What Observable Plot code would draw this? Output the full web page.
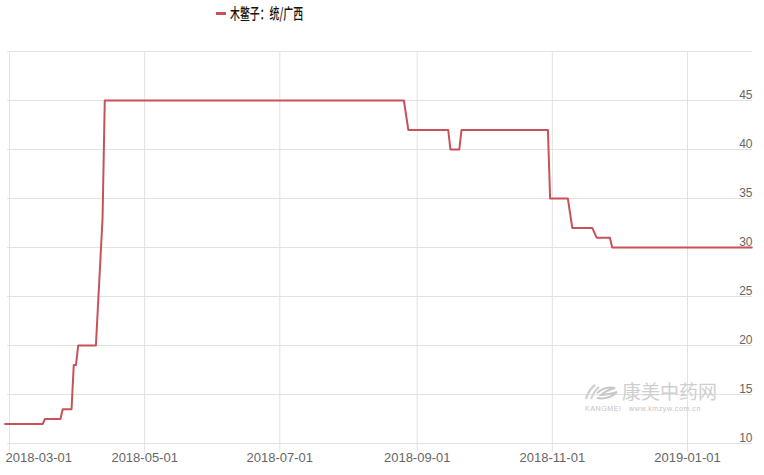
<!DOCTYPE html>
<html><head><meta charset="utf-8">
<script src="https://cdn.jsdelivr.net/npm/d3@7"></script>
<script src="https://cdn.jsdelivr.net/npm/@observablehq/plot@0.6"></script>
<style>
body{margin:0;background:#fff;width:764px;height:475px;overflow:hidden;position:relative;font-family:"Liberation Sans",Arial,sans-serif;}
#legend{position:relative;height:26px;}
#legend .sw{position:absolute;left:216px;top:12px;width:10px;height:3px;background:#c9525a;}
#legend .lt{position:absolute;left:230px;top:2px;font-family:"Noto Sans CJK SC",sans-serif;font-size:15px;line-height:22px;font-weight:500;color:#111;transform:scaleX(0.66);transform-origin:0 50%;white-space:nowrap;}
#wm1{position:absolute;left:622px;top:381px;font-family:"Noto Sans CJK SC",sans-serif;font-size:19px;line-height:20px;color:#cfcfcf;}
#wm2{position:absolute;left:585px;top:405px;font-family:"Liberation Sans",sans-serif;font-size:7px;line-height:7px;color:#c4c4c4;letter-spacing:0.6px;white-space:pre;}
#logo{position:absolute;left:583px;top:383px;}
</style></head><body>
<div id="legend"><span class="sw"></span><span class="lt" id="lt"></span></div>
<div id="chart"></div>
<svg id="logo" width="38" height="18" viewBox="0 0 38 18"><path d="M3 16 Q6 6 12 2" stroke="#cfcfcf" stroke-width="2.2" fill="none"/><path d="M8 16 Q11 8 16 4" stroke="#cfcfcf" stroke-width="2" fill="none"/><path d="M14 10 Q22 3 32 5 Q22 8 18 12 Q28 11 34 9 Q26 17 14 15" stroke="#c8c8c8" stroke-width="2" fill="none"/></svg>
<div id="wm1">康美中药网</div>
<div id="wm2">KANGMEI   www.kmzyw.com.cn</div>
<script>
const seriesName = "木鳖子：统/广西";
const dates = ["2018-02-27","2018-03-16","2018-03-17","2018-03-24","2018-03-25","2018-03-29","2018-03-30","2018-03-31","2018-04-01","2018-04-09","2018-04-12","2018-04-13","2018-08-26","2018-08-28","2018-09-15","2018-09-16","2018-09-20","2018-09-21","2018-10-30","2018-10-31","2018-11-08","2018-11-10","2018-11-19","2018-11-21","2018-11-27","2018-11-28","2019-01-30"];
const prices = [12,12,12.5,12.5,13.5,13.5,18,18,20,20,33,45,45,42,42,40,40,42,42,35,35,32,32,31,31,30,30];
const xTicks = ["2018-03-01","2018-05-01","2018-07-01","2018-09-01","2018-11-01","2019-01-01"];
const yTicks = [10,15,20,25,30,35,40,45];
const yGrid = [10,15,20,25,30,35,40,45,50];

document.getElementById("lt").textContent = seriesName;
const data = dates.map((d,i)=>({date:new Date(d+"T00:00:00Z"), price:prices[i]}));
const tickDates = xTicks.map(d=>new Date(d+"T00:00:00Z"));
const fmt = d3.utcFormat("%Y-%m-%d");

const chart = Plot.plot({
  width:764, height:449, marginTop:25, marginBottom:32, marginLeft:7, marginRight:12,
  style:{fontFamily:"Liberation Sans, Arial, sans-serif", fontSize:"12px", color:"#666", background:"#fff", overflow:"visible"},
  x:{type:"utc", domain:[tickDates[0], tickDates[tickDates.length-1]], range:[9,687]},
  y:{domain:[10,50], range:[417,25]},
  marks:[
    Plot.gridY(yGrid, {stroke:"#e2e2e2", strokeOpacity:1}),
    Plot.gridX(tickDates, {stroke:"#e2e2e2", strokeOpacity:1}),
    Plot.axisX(tickDates, {tickFormat:null, text:null, tickSize:9, stroke:"#e2e2e2", label:null}),
    Plot.axisX(tickDates.slice(0,1), {tickFormat:fmt, tickSize:9, tickPadding:0, stroke:"none", fontSize:13, fill:"#666", textAnchor:"start", dx:-4, label:null}),
    Plot.axisX(tickDates.slice(1), {tickFormat:fmt, tickSize:9, tickPadding:0, stroke:"none", fontSize:13, fill:"#666", label:null}),
    Plot.axisY(yTicks, {anchor:"right", tickSize:0, tickPadding:0, textAnchor:"end", dy:-5, fill:"#666", label:null}),
    Plot.line(data, {x:"date", y:"price", stroke:"#c9525a", strokeWidth:2})
  ]
});
document.getElementById("chart").appendChild(chart);
</script>
</body></html>
